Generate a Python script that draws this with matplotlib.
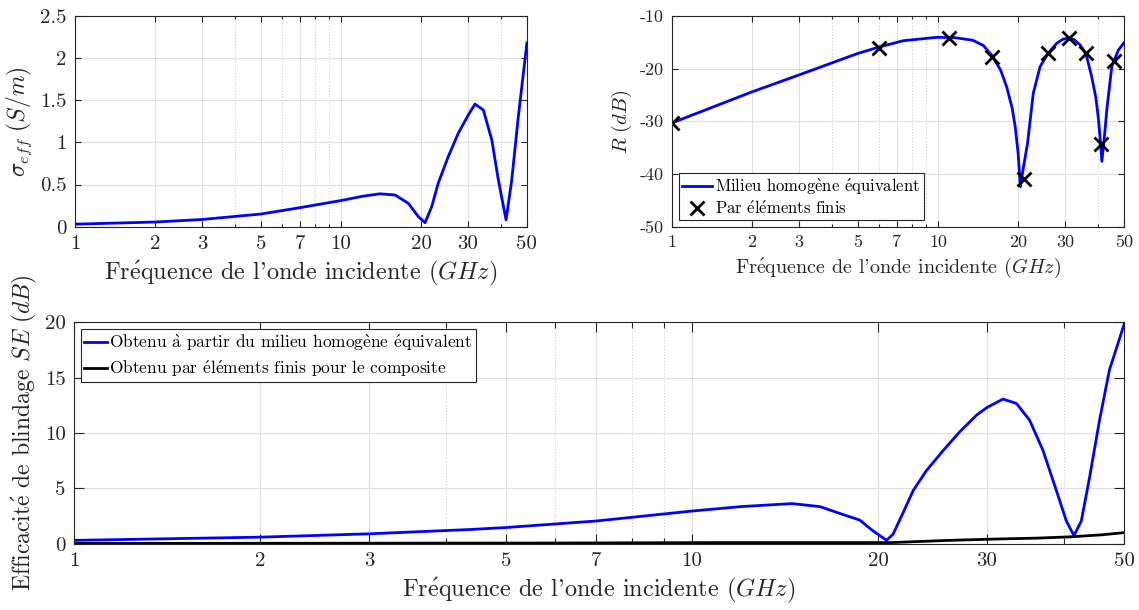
import numpy as np
import matplotlib.pyplot as plt
from matplotlib.ticker import FixedLocator, FixedFormatter, NullFormatter

plt.rcParams['font.family'] = ['cmr10', 'DejaVu Serif']
plt.rcParams['mathtext.fontset'] = 'cm'
plt.rcParams['axes.unicode_minus'] = False
plt.rcParams['axes.formatter.use_mathtext'] = True

# Conductivite effective
freq_sigma = [1, 2, 3, 5, 7, 10, 12, 14, 15.97, 17.92, 19.54, 20.7, 21.93, 23.2,
              25.3, 27.6, 30.1, 31.9, 34.3, 36.9, 39.05, 41.75, 43.85, 46.4, 50]
sigma = [0.03, 0.055, 0.085, 0.15, 0.225, 0.31, 0.36, 0.39, 0.376, 0.277,
         0.119, 0.047, 0.237, 0.515, 0.83, 1.108, 1.325, 1.455, 1.384, 1.03,
         0.554, 0.08, 0.554, 1.30, 2.18]

# Coefficient de reflexion
freq_r = [1, 2, 3, 5, 6, 7.4, 9.9, 11.5, 13.5, 14.8, 16, 17.2, 18.1, 19.0, 19.5,
          20.0, 20.4, 20.9, 21.7, 22.8, 24.2, 26, 27.9, 29.5, 31, 32.5, 34.2,
          36, 37.8, 39.2, 40, 40.8, 41.3, 42.2, 43.1, 45, 47.6, 50]
r_db = [-30.3, -24.4, -21.2, -17.1, -15.9, -14.7, -14.05, -14.1, -14.6, -15.6,
        -17.6, -20.3, -23.4, -27.5, -31, -36, -42.4, -39.0, -34.2, -24.7, -19.6,
        -17.0, -15.2, -14.4, -14.2, -14.5, -15.5, -17.2, -21.5, -25.5, -29.1,
        -34.0, -37.6, -33.0, -27.8, -19.6, -16.5, -15.1]
freq_fem = [1, 6, 11, 16, 21, 26, 31, 36, 41, 46]
r_fem = [-30.4, -16.0, -14.1, -17.7, -41.0, -17.1, -14.1, -17.1, -34.3, -18.5]

# Efficacite de blindage
freq_se = [1, 2, 3, 4.37, 5, 7, 10, 12, 14.5, 16.1, 17.3, 18.68, 19.63, 20.64,
           21.14, 21.95, 22.79, 23.94, 25.47, 27.1, 28.84, 30, 31.85, 33.48,
           35.17, 36.96, 38.85, 40.32, 41.48, 42.64, 43.97, 45.63, 47.35, 50]
se_hom = [0.3, 0.59, 0.89, 1.28, 1.46, 2.05, 2.95, 3.35, 3.62, 3.35, 2.75,
          2.13, 1.15, 0.31, 0.85, 2.8, 4.8, 6.6, 8.4, 10.1, 11.6, 12.3, 13.06,
          12.67, 11.15, 8.43, 4.8, 2.06, 0.73, 2.06, 6.0, 11.15, 15.7, 19.8]
freq_se_fem = [1, 6, 11, 16, 21, 26, 31, 36, 41, 46, 50]
se_fem = [0.02, 0.06, 0.1, 0.1, 0.1, 0.3, 0.42, 0.5, 0.62, 0.8, 1.0]

xticks = [1, 2, 3, 5, 7, 10, 20, 30, 50]
xticklabels = ['1', '2', '3', '5', '7', '10', '20', '30', '50']
xminor = [4, 6, 8, 9, 40]


def tx(s):
    # accents en mathtext (cmr10 n'a pas ces glyphes)
    s = s.replace('é', r'$\mathrm{\acute{e}}$')
    s = s.replace('è', r'$\mathrm{\grave{e}}$')
    s = s.replace('à', r'$\mathrm{\grave{a}}$')
    return s


xlabel = tx("Fréquence de l'onde incidente ($GHz$)")

fig = plt.figure(figsize=(11.39, 6.10), dpi=100)
ax1 = fig.add_axes([0.0658, 0.6284, 0.3968, 0.3454])
ax2 = fig.add_axes([0.590, 0.6284, 0.3968, 0.3454])
ax3 = fig.add_axes([0.065, 0.1087, 0.9219, 0.363])


def style(ax, fs, ticklen):
    ax.set_xscale('log')
    ax.set_xlim(1, 50)
    ax.xaxis.set_major_locator(FixedLocator(xticks))
    ax.xaxis.set_major_formatter(FixedFormatter(xticklabels))
    ax.xaxis.set_minor_locator(FixedLocator(xminor))
    ax.xaxis.set_minor_formatter(NullFormatter())
    ax.grid(True, which='major', color='#dfdfdf', lw=0.8)
    ax.grid(True, which='minor', axis='x', color='#cfcfcf', lw=0.8, ls=':')
    ax.set_axisbelow(True)
    ax.tick_params(which='both', direction='in', top=True, right=True,
                   colors='#262626', labelsize=fs, width=0.8)
    ax.tick_params(which='major', length=ticklen, pad=6)
    ax.tick_params(which='minor', length=ticklen * 0.6)
    for s in ax.spines.values():
        s.set_color('#262626')
        s.set_linewidth(0.8)


# Graphe 1
style(ax1, 15, 4)
ax1.plot(freq_sigma, sigma, color='blue', lw=2)
ax1.set_ylim(0, 2.5)
ax1.set_yticks([0, 0.5, 1, 1.5, 2, 2.5])
ax1.set_yticklabels(['0', '0.5', '1', '1.5', '2', '2.5'])
ax1.set_xlabel(xlabel, fontsize=17.5, color='#262626')
ax1.set_ylabel(r'$\sigma_{eff}\ (S/m)$', fontsize=17, color='#262626')

# Graphe 2
style(ax2, 13, 4)
ax2.plot(freq_r, r_db, color='blue', lw=2,
         label=tx('Milieu homogène équivalent'))
ax2.plot(freq_fem, r_fem, 'x', color='black', ms=10, mew=2,
         label=tx('Par éléments finis'))
ax2.set_ylim(-50, -10)
ax2.set_yticks([-50, -40, -30, -20, -10])
ax2.set_yticklabels(['-50', '-40', '-30', '-20', '-10'])
ax2.set_xlabel(xlabel, fontsize=14.5, color='#262626')
ax2.set_ylabel(r'$R\ (dB)$', fontsize=15, color='#262626')
leg2 = ax2.legend(loc='lower left', fontsize=12, fancybox=False,
                  edgecolor='#262626', framealpha=1, handlelength=1.8,
                  handletextpad=0.2, borderpad=0.2, labelspacing=0.15,
                  borderaxespad=0.4)
leg2.get_frame().set_linewidth(0.8)

# Graphe 3
style(ax3, 15, 7)
ax3.plot(freq_se, se_hom, color='blue', lw=2,
         label=tx('Obtenu à partir du milieu homogène équivalent'))
ax3.plot(freq_se_fem, se_fem, color='black', lw=2,
         label=tx('Obtenu par éléments finis pour le composite'))
ax3.set_ylim(0, 20)
ax3.set_yticks([0, 5, 10, 15, 20])
ax3.set_yticklabels(['0', '5', '10', '15', '20'])
ax3.set_xlabel(xlabel, fontsize=17.5, color='#262626')
ax3.set_ylabel(tx(r'Efficacité de blindage $SE\ (dB)$'), fontsize=17,
               color='#262626')
leg3 = ax3.legend(loc='upper left', fontsize=12.5, fancybox=False,
                  edgecolor='#262626', framealpha=1, handlelength=1.3,
                  handletextpad=0.1, borderpad=0.2, labelspacing=0.3,
                  borderaxespad=0.4)
leg3.get_frame().set_linewidth(0.8)

fig.savefig('out.png', dpi=100)
